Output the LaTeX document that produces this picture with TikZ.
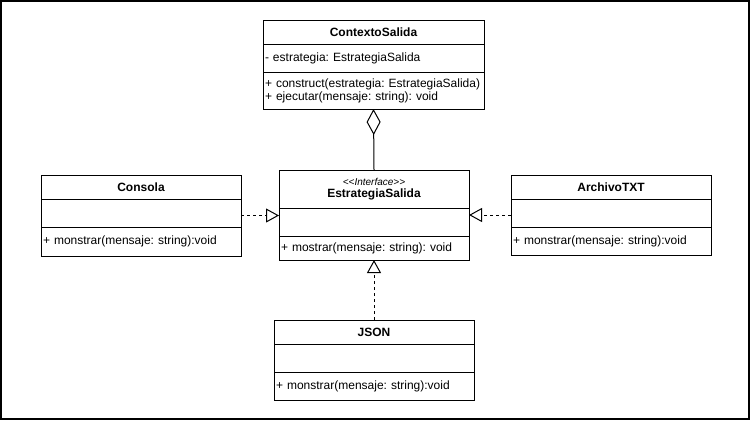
\documentclass[tikz,border=0pt]{standalone}
\usepackage{fontspec}
\setmainfont{Liberation Sans}
\usepackage{tikz}
\usetikzlibrary{arrows.meta,positioning,fit}
\tikzset{
  umlhead/.style={draw,line width=1pt,inner sep=0pt,outer sep=0pt,anchor=north,align=center,
    font=\fontsize{12}{12}\selectfont\bfseries},
  umlpart/.style={draw,line width=1pt,inner xsep=2pt,inner ysep=0pt,outer sep=0pt,align=left,
    font=\fontsize{12}{13}\selectfont},
  realize/.style={line width=1pt,dash pattern=on 3pt off 3pt,-{Triangle[open,length=13pt,width=14pt]}},
  aggr/.style={line width=1pt,-{Diamond[open,length=26pt,width=14pt]}}
}
\newcommand{\ClassBox}[9]{% name x top width hhead title attrs methods hmeth
\node[umlhead,minimum width=#4,minimum height=#5] (#1H) at (#2,#3) {#6};
\node[umlpart,minimum width=#4,text width=#4-4,minimum height=28,below=0pt of #1H] (#1A) {#7};
\node[umlpart,minimum width=#4,text width=#4-4,minimum height=#9,below=0pt of #1A] (#1M) {#8};
\node[fit=(#1H)(#1M),inner sep=0pt,outer sep=0pt] (#1) {};
}

\begin{document}
\frenchspacing\hyphenpenalty=10000\exhyphenpenalty=10000
\begin{tikzpicture}[x=1pt,y=-1pt]
\useasboundingbox (0,0) rectangle (751,421);
\draw[line width=2pt] (1,1) rectangle (749.3,419.3);
% context with aggregation
\ClassBox{ctx}{373.5}{20}{221}{24}{ContextoSalida}{- estrategia: EstrategiaSalida}
  {+ construct(estrategia: EstrategiaSalida)\\+ ejecutar(mensaje: string): void}{37}
\ClassBox{ifc}{374}{170}{190}{38}%
  {{\fontsize{10}{10}\selectfont\mdseries\itshape <{}<Interface>{}>}\\EstrategiaSalida}
  {}{+ mostrar(mensaje: string): void}{24}
% implementations
\ClassBox{cons}{141}{175}{200}{24}{Consola}{}{+ monstrar(mensaje: string):void}{29}
\ClassBox{arch}{611}{175}{200}{24}{ArchivoTXT}{}{+ monstrar(mensaje: string):void}{28}
\ClassBox{json}{374}{320}{200}{24}{JSON}{}{+ monstrar(mensaje: string):void}{28}
\draw[aggr] (ifcH.north) -- (ctxM.south);
\draw[realize] (cons.east) -- (cons.east -| ifc.west);
\draw[realize] (arch.west) -- (arch.west -| ifc.east);
\draw[realize] (json.north) -- (ifc.south);
\end{tikzpicture}
\end{document}
